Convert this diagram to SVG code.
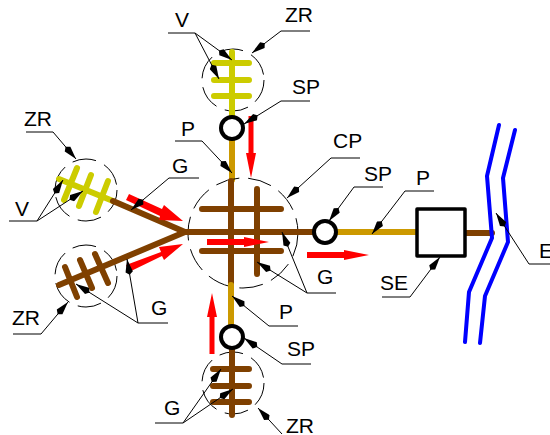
<svg xmlns="http://www.w3.org/2000/svg" width="550" height="435" viewBox="0 0 550 435">
<style>
text{font-family:"Liberation Sans",Arial,sans-serif;font-size:21px;fill:#000}
.b,.y,.g{fill:none;stroke-width:6;stroke-linecap:round;stroke-linejoin:round}
.b{stroke:#7f4000}.y{stroke:#cccc00}.g{stroke:#cc9900}
.z{fill:none;stroke:#000;stroke-width:1;stroke-dasharray:24 9}
.s{fill:#fff;stroke:#000;stroke-width:4}
.e{fill:none;stroke:#0000ff;stroke-width:4;stroke-linecap:round;stroke-linejoin:round}
.l{fill:none;stroke:#000;stroke-width:1}
.a{marker-end:url(#h)}
.r{fill:#ff0000}
</style>
<defs>
<marker id="h" markerUnits="userSpaceOnUse" viewBox="0 0 16 8" refX="16" refY="4" markerWidth="16" markerHeight="8" orient="auto"><path d="M0 4L3 0.3L16 4L3 7.7Z" fill="#000"/></marker>
</defs>
<g id="top-branch">
<circle class="z" cx="233" cy="80" r="31"/>
<path class="y" d="M232 52V118M214 63H249M214 80H249M214 96H249"/>
<path class="g" d="M232 138V180"/>
<circle id="sp-top" class="s" cx="232" cy="128" r="11"/>
</g>
<g id="upper-left-branch">
<circle class="z" cx="86" cy="190" r="31"/>
<path class="y" d="M59 179L113 201M77 168L64 200M91 175L79 206M108 181L96 212"/>
<path class="b" d="M113 201L185 232"/>
</g>
<g id="lower-left-branch">
<circle class="z" cx="86" cy="276" r="31"/>
<path class="b" d="M185 232L59 285M65 267L77 297M80 260L92 288M95 254L108 283"/>
</g>
<g id="central-plant">
<circle class="z" cx="243" cy="233" r="55"/>
<path class="b" d="M231 181V283M257 189V274M202 209H281M202 251H281M187 232H316"/>
</g>
<g id="bottom-branch">
<circle class="z" cx="233" cy="383" r="31"/>
<path class="g" d="M231 285V328"/>
<path class="b" d="M232 347V415M213 369H249M213 386H249M213 402H249"/>
<circle id="sp-bottom" class="s" cx="232" cy="337" r="11"/>
</g>
<g id="right-branch">
<path class="g" d="M336 232H419"/>
<circle id="sp-right" class="s" cx="325" cy="232" r="11"/>
</g>
<g id="se">
<path class="b" d="M463 233H492"/>
<rect x="417" y="209" width="48" height="47" fill="#fff" stroke="#000" stroke-width="3.5" stroke-linejoin="round"/>
</g>
<g id="e">
<path class="e" d="M499 125L487 176L492 238L469 292L465 342"/>
<path class="e" d="M515 130L503 178L508 242L485 296L480 343"/>
</g>
<g id="flows" class="r">
<path d="M129 194L162 209L164 205L183 221L159 220L160 216L126 200Z"/>
<path d="M126 265L161 252L159 247L183 244L164 260L162 256L129 272Z"/>
<path d="M207 239H244V237L269 242L244 247V245H207Z"/>
<path d="M307 252H344V250L369 255L344 260V258H307Z"/>
<path d="M248.500 116H253.500V153H256L251 178L246 153H248.500Z"/>
<path d="M209.500 354H214.500V317H217L212 293L207 317H209.500Z"/>
</g>
<g id="connectors">
<path class="l a" d="M168 33H195L232 60"/><path class="l a" d="M195 33L219 79"/>
<path class="l a" d="M310 31H281L252 53"/>
<path class="l a" d="M310 101H281L244 124"/>
<path class="l a" d="M175 141H202L232 173"/>
<path class="l a" d="M360 158H331L287 198"/>
<path class="l a" d="M383 187H354L329 221"/>
<path class="l a" d="M434 191H405L372 234"/>
<path class="l a" d="M382 297H410L440 257"/>
<path class="l a" d="M550 264H529L496 213"/>
<path class="l a" d="M336 293H307L282 232"/><path class="l a" d="M307 293L257 262"/>
<path class="l a" d="M298 326H269L232 296"/>
<path class="l a" d="M311 364H282L244 338"/>
<path class="l a" d="M282 434L258 408"/>
<path class="l a" d="M155 423H183L221 369"/><path class="l a" d="M183 423L233 389"/>
<path class="l a" d="M26 132H53L76 159"/>
<path class="l a" d="M9 221H37L63 180"/><path class="l a" d="M37 221L83 191"/>
<path class="l a" d="M199 178H169L131 210"/>
<path class="l a" d="M168 323H138L127 259"/><path class="l a" d="M138 323L76 284"/>
<path class="l a" d="M13 334H41L68 302"/>
</g>
<g id="labels">
<text x="175" y="27">V</text><text x="285" y="22">ZR</text><text x="292" y="94">SP</text>
<text x="181" y="136">P</text><text x="333" y="148">CP</text><text x="364" y="181">SP</text>
<text x="416" y="185">P</text><text x="380" y="290">SE</text><text x="539" y="258">E</text>
<text x="317" y="284">G</text><text x="279" y="319">P</text><text x="287" y="356">SP</text>
<text x="286" y="433">ZR</text><text x="164" y="415">G</text><text x="24" y="126">ZR</text>
<text x="15" y="216">V</text><text x="172" y="173">G</text><text x="151" y="315">G</text><text x="12" y="325">ZR</text>
</g>
</svg>
